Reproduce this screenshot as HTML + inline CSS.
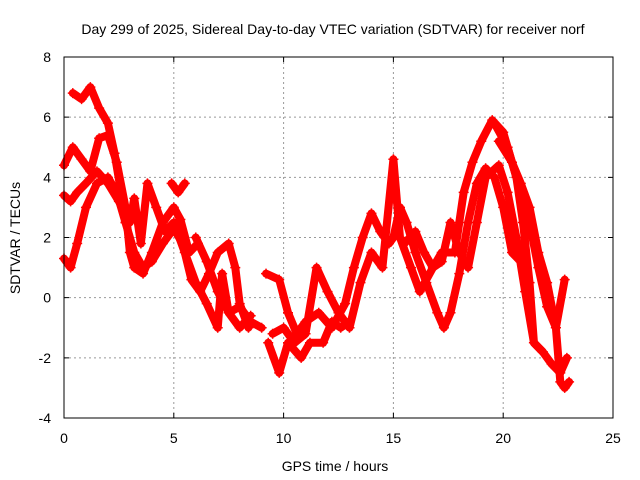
<!DOCTYPE html>
<html><head><meta charset="utf-8"><style>
body{margin:0;background:#fff}
svg{display:block;font-family:"Liberation Sans",sans-serif}
</style></head><body>
<svg id="chart" width="640" height="480" xmlns="http://www.w3.org/2000/svg">
<rect width="640" height="480" fill="#fff"/>
<text x="333" y="34" font-size="14" text-anchor="middle">Day 299 of 2025, Sidereal Day-to-day VTEC variation (SDTVAR) for receiver norf</text>
<g id="grid"></g>
<g id="series"></g>
<rect x="64" y="57" width="549" height="361" fill="none" stroke="#000" stroke-width="1"/>
<g id="ticks"></g>
<text x="335" y="471" font-size="14" text-anchor="middle">GPS time / hours</text>
<text transform="translate(20,238) rotate(-90)" font-size="14" text-anchor="middle">SDTVAR / TECUs</text>
</svg>
<script>
const xTicks=[0,5,10,15,20,25];
const yTicks=[-4,-2,0,2,4,6,8];
const trace1=[[0.4,6.8],[0.8,6.6],[1.2,7.0],[1.6,6.3],[2.0,5.8],[2.3,4.8],[2.6,3.5],[2.8,2.5]];
const trace2=[[0,4.4],[0.4,5.0],[0.8,4.6],[1.2,4.2],[1.6,5.3],[2.0,5.4],[2.4,4.5],[2.8,3.0],[3.0,1.5],[3.2,1.0],[3.6,0.8],[4.0,1.5],[4.5,2.5],[5.0,3.0],[5.3,2.6],[5.7,1.5],[6.1,1.8]];
const trace3=[[4.9,3.8],[5.2,3.5],[5.5,3.8]];
const trace4=[[0,1.3],[0.3,1.0],[0.6,1.8],[1.0,3.0],[1.5,3.8],[2.0,4.0],[2.4,3.5],[2.8,2.5],[3.2,1.5],[3.6,1.0],[4.0,1.2],[4.5,1.8],[5.0,2.3],[5.4,1.8],[5.8,0.6],[6.2,0.2],[6.6,0.8],[7.0,1.5],[7.5,1.8],[7.8,1.0],[8.0,-0.2],[8.4,-1.0]];
const trace5=[[0,3.4],[0.3,3.2],[0.6,3.5],[1.0,3.8],[1.5,4.2],[2.0,3.8],[2.5,3.2],[3.0,2.5],[3.2,3.3],[3.5,1.8],[3.8,3.8],[4.2,3.0],[4.6,2.2],[5.0,2.5],[5.5,1.5],[6.0,0.5],[6.5,-0.2],[7.0,-1.0],[7.2,0.8],[7.5,-0.5],[8.0,-0.3],[8.5,-0.8],[9.0,-1.0]];
const trace6=[[6.0,2.0],[6.5,1.2],[7.0,0.2],[7.5,-0.5],[8.0,-1.0],[8.5,-0.6]];
const trace7=[[9.3,-1.5],[9.8,-2.5],[10.2,-1.5],[10.8,-2.0],[11.2,-1.5],[11.8,-1.5],[12.2,-0.8],[12.6,-1.0],[13.0,-0.8]];
const trace8=[[9.2,0.8],[9.8,0.6],[10.2,-0.5],[10.6,-1.2],[11.0,-0.8],[11.6,-0.5],[12.2,-1.0],[12.8,-0.2],[13.2,1.0],[13.6,2.0],[14.0,2.8],[14.4,2.2],[14.8,1.8],[15.0,2.0],[15.3,3.0],[15.6,2.5],[16.0,1.5],[16.5,0.5],[17.0,-0.5],[17.3,-1.0],[17.6,-0.5],[18.0,0.8],[18.4,2.5],[18.8,3.8],[19.2,4.3],[19.6,4.0],[20.0,3.0],[20.4,1.5],[20.8,1.2],[21.0,2.0]];
const trace9=[[9.5,-1.2],[10,-1.0],[10.5,-1.5],[11.0,-1.2],[11.5,1.0],[12.0,0.2],[12.5,-0.5],[13.0,-1.0],[13.5,0.5],[14.0,1.5],[14.5,1.0],[15.0,4.6],[15.3,2.0],[15.8,1.0],[16.2,0.2],[16.8,1.0],[17.2,1.5],[17.8,1.5],[18.2,3.5],[18.6,4.5],[19.0,5.2],[19.5,5.9],[20.0,5.5],[20.4,4.5],[20.8,3.5],[21.2,2.5],[21.6,1.0],[22.0,-0.3],[22.4,-1.0],[22.8,0.6]];
const trace10=[[15.5,1.8],[16,2.2],[16.4,1.5],[16.8,1.0],[17.2,1.2],[17.6,2.5],[18.0,1.5],[18.4,1.0],[18.8,2.5],[19.2,4.0],[19.8,4.4],[20.2,3.5],[20.6,2.0],[21.0,0.2],[21.4,-1.5],[21.8,-1.8],[22.2,-2.2],[22.6,-2.5],[22.9,-2.0]];
const trace11=[[19.8,5.2],[20.4,4.5],[20.8,3.8],[21.2,3.0],[21.6,1.5],[22.0,0.5],[22.4,-1.0],[22.6,-2.8],[22.8,-3.0],[23.0,-2.8]];
const trace12=[[19.6,5.8],[20.2,5.0],[20.6,4.0],[20.9,2.5],[21.2,0.5],[21.4,-1.5],[21.8,-1.8]];
const traces=[trace1,trace2,trace3,trace4,trace5,trace6,trace7,trace8,trace9,trace10,trace11,trace12];
const X=t=>64+t*(549/25), Y=v=>418-(v+4)*(361/12);
const NS="http://www.w3.org/2000/svg";
const grid=document.getElementById('grid'),ticks=document.getElementById('ticks'),ser=document.getElementById('series');
function mk(tag,attrs,parent){const e=document.createElementNS(NS,tag);for(const k in attrs)e.setAttribute(k,attrs[k]);parent.appendChild(e);return e;}
xTicks.forEach(t=>{const x=X(t);
 if(t>0&&t<25){const g=mk('line',{x1:x,x2:x,y1:57,y2:418,stroke:'#999','stroke-dasharray':'2,3'},grid);
 
 }
 const tk=mk('path',{d:`M${x},418v-5M${x},57v5`,stroke:'#000'},ticks);
 
 
 const l=mk('text',{x:x,y:443,'font-size':14,'text-anchor':'middle'},ticks);l.textContent=t;
 
 });
yTicks.forEach(v=>{const y=Y(v);
 if(v>-4&&v<8){const g=mk('line',{x1:64,x2:613,y1:y,y2:y,stroke:'#999','stroke-dasharray':'2,3'},grid);
 
 }
 const tk=mk('path',{d:`M64,${y}h5M613,${y}h-5`,stroke:'#000'},ticks);
 
 
 const l=mk('text',{x:51,y:y+5,'font-size':14,'text-anchor':'end'},ticks);l.textContent=v;
 
 });
traces.forEach((tr,i)=>{
 const p=mk('polyline',{points:tr.map(d=>X(d[0])+','+Y(d[1])).join(' '),fill:'none',stroke:'#f00','stroke-width':8,'stroke-linejoin':'round','stroke-linecap':'round'},ser);
 
 
 tr.forEach(d=>{const m=mk('path',{d:`M${X(d[0])-5},${Y(d[1])}h10M${X(d[0])},${Y(d[1])-5}v10`,stroke:'#f00','stroke-width':1.5},ser);
 
 });
});
</script>
</body></html>
